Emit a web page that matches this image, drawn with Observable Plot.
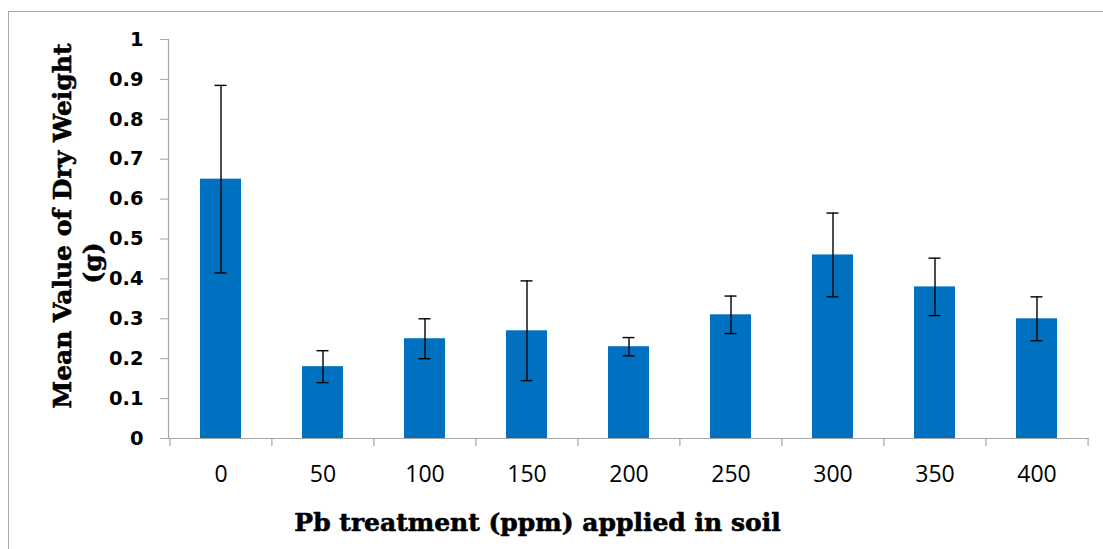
<!DOCTYPE html>
<html>
<head>
<meta charset="utf-8">
<script src="https://cdn.jsdelivr.net/npm/d3@7"></script>
<script src="https://cdn.jsdelivr.net/npm/@observablehq/plot@0.6"></script>
<style>
  html, body { margin: 0; padding: 0; background: #fff; }
  body { position: relative; width: 1103px; height: 549px; overflow: hidden; }
  #border { position: absolute; left: 8px; top: 11px; width: 1200px; height: 700px; border: 1px solid #a8a8a8; box-sizing: border-box; }
  #chart { position: absolute; left: 0; top: 0; }
  #chart svg { overflow: visible; }
</style>
</head>
<body>
<div id="border"></div>
<div id="chart"></div>
<script>
// Data
const categories = ["0", "50", "100", "150", "200", "250", "300", "350", "400"];
const means      = [0.65, 0.18, 0.25, 0.27, 0.23, 0.31, 0.46, 0.38, 0.30];
const errors     = [0.235, 0.04, 0.05, 0.125, 0.023, 0.047, 0.105, 0.072, 0.055];
const yTicks     = [0, 0.1, 0.2, 0.3, 0.4, 0.5, 0.6, 0.7, 0.8, 0.9, 1];
const xTitle     = "Pb treatment (ppm) applied in soil";
const yTitle     = ["Mean Value of Dry Weight", "(g)"];

const data = categories.map((c, i) => ({cat: c, mean: means[i], err: errors[i]}));

const W = 1103, H = 549;
const mL = 168, mR = 15, mT = 39, mB = 111;
const frameH = H - mT - mB;
const step = (W - mL - mR) / categories.length;
const axisColor = "#a6a6a6";
const titleFont = {fontFamily: "DejaVu Serif", fontWeight: "bold", fontSize: 25, fill: "black", stroke: "black", strokeWidth: 0.6};

const plot = Plot.plot({
  width: W,
  height: H,
  marginLeft: mL,
  marginRight: mR,
  marginTop: mT,
  marginBottom: mB,
  x: {type: "band", domain: categories, paddingInner: 0.6, paddingOuter: 0.3, align: 0.5},
  y: {domain: [0, 1]},
  marks: [
    Plot.barY(data, {x: "cat", y: "mean", fill: "#0070C0"}),
    Plot.ruleX(data, {x: "cat", y1: d => d.mean - d.err, y2: d => d.mean + d.err, stroke: "black", strokeWidth: 1.4}),
    Plot.tickY(data, {x: "cat", y: d => d.mean - d.err, stroke: "black", strokeWidth: 1.4, insetLeft: 14.5, insetRight: 14.5}),
    Plot.tickY(data, {x: "cat", y: d => d.mean + d.err, stroke: "black", strokeWidth: 1.4, insetLeft: 14.5, insetRight: 14.5}),
    Plot.frame({anchor: "left", stroke: axisColor, strokeWidth: 1.2}),
    Plot.frame({anchor: "bottom", stroke: axisColor, strokeWidth: 1.2}),
    // category boundary ticks below the x axis
    Plot.ruleX(categories, {x: d => d, dx: -step / 2, insetTop: frameH, insetBottom: -8, stroke: axisColor, strokeWidth: 1.2}),
    Plot.ruleX(categories.slice(-1), {x: d => d, dx: step / 2, insetTop: frameH, insetBottom: -8, stroke: axisColor, strokeWidth: 1.2}),
    Plot.axisY({
      ticks: yTicks, tickSize: 8, tickPadding: 17, stroke: axisColor,
      tickFormat: d => String(+d.toFixed(1)),
      fontFamily: "DejaVu Sans", fontWeight: "bold", fontSize: 19.5, fill: "black", label: null
    }),
    Plot.axisX({
      tickSize: 0, tickPadding: 27,
      fontFamily: "Open Sans", fontSize: 23, fill: "black", label: null
    }),
    Plot.text([xTitle], {text: d => d, frameAnchor: "bottom", dx: -91, dy: 84, lineAnchor: "middle", textAnchor: "middle", ...titleFont}),
    Plot.text([yTitle[0]], {text: d => d, frameAnchor: "left", rotate: -90, dx: -106, dy: -13, lineAnchor: "middle", textAnchor: "middle", ...titleFont}),
    Plot.text([yTitle[1]], {text: d => d, frameAnchor: "left", rotate: -90, dx: -76, dy: 24, lineAnchor: "middle", textAnchor: "middle", ...titleFont})
  ]
});
document.getElementById("chart").appendChild(plot);
</script>
</body>
</html>
